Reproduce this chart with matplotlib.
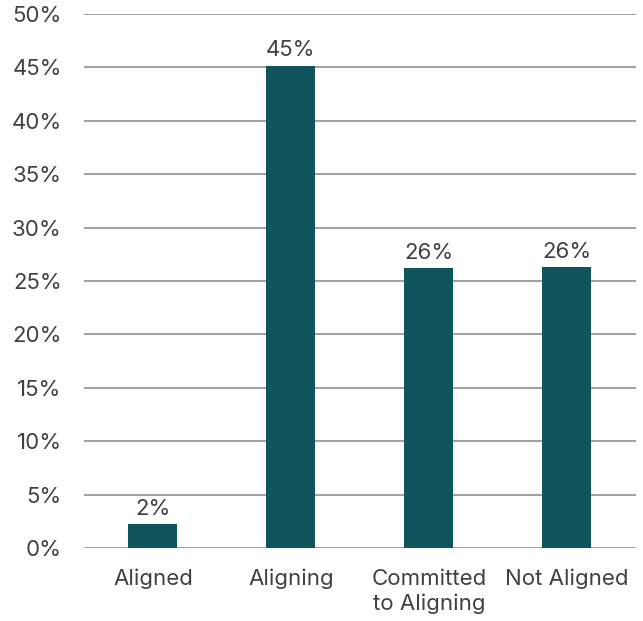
import matplotlib.pyplot as plt
import matplotlib as mpl

mpl.rcParams.update({
    "font.family": ["Inter", "DejaVu Sans"],
    "font.size": 16,
})

categories = ["Aligned", "Aligning", "Committed\nto Aligning", "Not Aligned"]
values = [2.25, 45.15, 26.2, 26.3]
labels = ["2%", "45%", "26%", "26%"]
yticks = [0, 5, 10, 15, 20, 25, 30, 35, 40, 45, 50]

bar_color = "#0f555b"
text_color = "#404040"

fig = plt.figure(figsize=(6.43, 6.21), dpi=100)
ax = fig.add_axes([0.1306, 0.1176, 0.8584, 0.86])

x = range(len(categories))
bars = ax.bar(x, values, width=0.355, color=bar_color, zorder=3)
for b, lab in zip(bars, labels):
    ax.text(b.get_x() + b.get_width() / 2, b.get_height() + 0.5, lab,
            ha="center", va="bottom", color=text_color, fontsize=16)

ax.set_ylim(0, 50)
ax.set_xlim(-0.5, 3.5)
ax.set_yticks(yticks)
ax.set_yticklabels([f"{t}%" for t in yticks])
ax.set_xticks(list(x))
ax.set_xticklabels(categories, linespacing=1.3)
ax.yaxis.grid(True, color="#999999", linewidth=1.3, zorder=0)
ax.tick_params(axis="both", length=0, colors=text_color, labelsize=16)
ax.tick_params(axis="y", pad=16)
ax.tick_params(axis="x", pad=15)
for s in ax.spines.values():
    s.set_visible(False)

fig.savefig("out.png", dpi=100)
